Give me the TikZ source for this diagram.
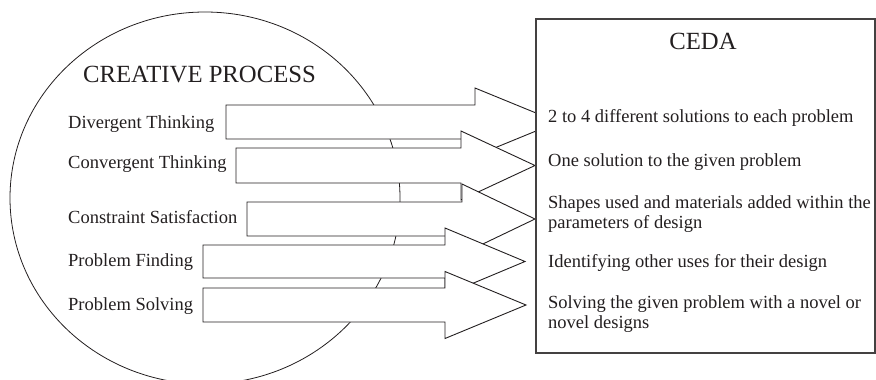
\documentclass[tikz,border=0pt]{standalone}
\usepackage{fontspec}
\setmainfont{Liberation Serif}
\definecolor{ink}{RGB}{35,31,32}
\tikzset{
  proclabel/.style={anchor=base west, inner sep=0pt, text=ink,
    font=\fontsize{18.5}{20}\selectfont},
  cedaitem/.style={anchor=north west, inner sep=0pt, align=left, text=ink,
    font=\fontsize{18.5}{20}\selectfont},
  heading/.style={anchor=base, inner sep=0pt, text=ink,
    font=\fontsize{24.7}{28}\selectfont},
  blockarrow/.style={draw=ink, fill=white, line width=0.9pt, line join=miter},
  outline/.style={draw=ink, line width=0.8pt},
  cedabox/.style={draw=ink!85, fill=white, line width=1.3pt}
}
% block arrow: left x, shoulder x, tip x, centre y, half body height, half head height
\newcommand\blockarr[6]{%
  \draw[blockarrow] (#1,#4-#5) -- (#2,#4-#5) -- (#2,#4-#6) -- (#3,#4)
    -- (#2,#4+#6) -- (#2,#4+#5) -- (#1,#4+#5) -- cycle;}
\begin{document}
\begin{tikzpicture}[x=1pt,y=-1pt]
  \useasboundingbox (0,0) rectangle (876,380);
  \clip (0,0) rectangle (876,380);

  % creative process bubble
  \draw[outline] (205,198) ellipse [x radius=195, y radius=186];
  \node[heading, anchor=base west] (cp) at (83,82) {CREATIVE PROCESS};
  \node[proclabel] (div) at (68,128) {Divergent Thinking};
  \node[proclabel] (conv) at (68,168.3) {Convergent Thinking};
  \node[proclabel] (cons) at (68,223.3) {Constraint Satisfaction};
  \node[proclabel] (find) at (68,266) {Problem Finding};
  \node[proclabel] (solve) at (68,310.5) {Problem Solving};

  % block arrows, each one laid over the previous
  \blockarr{226}{475}{558}{122}{17}{34}
  \blockarr{236}{461}{535}{165.5}{17.5}{34.5}
  \blockarr{247}{462}{535}{219}{17}{35}
  \blockarr{203}{445}{525}{261.5}{16.5}{33.5}
  \blockarr{203}{445}{526}{305}{17}{33.5}

  % CEDA box
  \draw[cedabox] (536,19) rectangle (875,353);
  \node[heading] (ceda) at (703,49) {CEDA};
  \node[proclabel] (r1) at (548,122) {2 to 4 different solutions to each problem};
  \node[proclabel] (r2) at (548,166) {One solution to the given problem};
  \node[cedaitem] (r3) at (548,195.4) {Shapes used and materials added within the\\parameters of design};
  \node[proclabel] (r4) at (548,267) {Identifying other uses for their design};
  \node[cedaitem] (r5) at (548,295.4) {Solving the given problem with a novel or\\novel designs};
\end{tikzpicture}
\end{document}
